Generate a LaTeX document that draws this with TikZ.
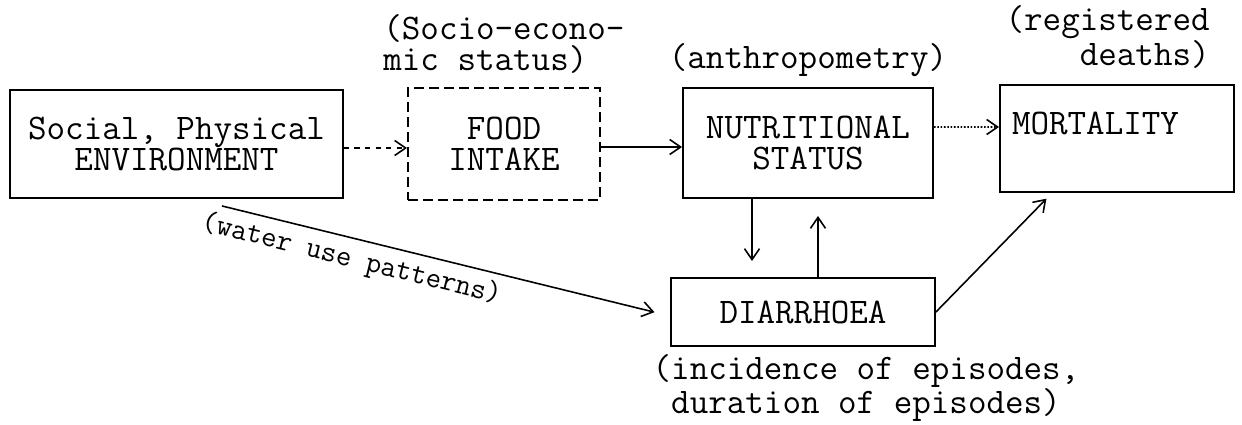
\documentclass[tikz,border=0pt]{standalone}
\usepackage{fontspec}
\usetikzlibrary{arrows.meta}
\newcommand{\typefont}{\ttfamily\fontsize{20.5pt}{17.6pt}\selectfont}
\newcommand{\slopefont}{\ttfamily\fontsize{17pt}{17pt}\selectfont}
\begin{document}
\begin{tikzpicture}[x=0.02cm, y=-0.02cm,
        box/.style={draw, line width=1.1pt, align=center, inner sep=0pt, font=\typefont},
        lbl/.style={align=center, inner sep=0pt, font=\typefont},
        flow/.style={-{Straight Barb[length=0.22cm, width=0.3cm]}, line width=0.9pt}]
        \useasboundingbox (0,0) rectangle (1242,424);

        % Boxes
        \node[box, minimum width=6.66cm, minimum height=2.16cm] (env) at (176.5, 144) {Social, Physical\\ENVIRONMENT};
        \node[box, dash pattern=on 0.2cm off 0.1cm, minimum width=3.84cm, minimum height=2.24cm] (food) at (504, 144) {FOOD\\INTAKE};
        \node[box, minimum width=5cm, minimum height=2.2cm] (nutr) at (808, 143) {NUTRITIONAL\\STATUS};
        \node[box, align=left, inner xsep=0.24cm, text width=4.2cm, minimum width=4.68cm, minimum height=2.14cm] (mort) at (1117, 138.5) {MORTALITY\\\mbox{}};
        \node[box, minimum width=5.28cm, minimum height=1.36cm] (diarr) at (803, 312) {DIARRHOEA};

        % Labels
        \node[lbl, anchor=west, align=left] (socio) at (383, 44) {(Socio-econo-\\mic status)};
        \node[lbl] (anthro) at (808, 60) {(anthropometry)};
        \node[lbl, anchor=east, align=right] (deaths) at (1210, 37) {(registered\\deaths)};
        \node[lbl] (episodes) at (866, 388) {(incidence of episodes,\\duration of episodes)};

        % Flows along the top
        \draw[flow, dashed] ([yshift=-0.08cm]env.east) -- ([yshift=-0.08cm]food.west);
        \draw[flow] ([yshift=-0.06cm]food.east) -- ([yshift=-0.08cm]nutr.west);
        \draw[flow, densely dotted] ([yshift=0.32cm]nutr.east) -- ([yshift=0.23cm]mort.west);

        % Nutrition and diarrhoea
        \draw[flow, shorten >=0.32cm] ([xshift=-1.12cm]nutr.south) -- ([xshift=-1.02cm]diarr.north);
        \draw[flow, shorten >=0.34cm] ([xshift=0.3cm]diarr.north) -- ([xshift=0.2cm]nutr.south);
        \draw[flow, shorten >=0.16cm] (diarr.east) -- ([xshift=-1.3cm]mort.south);

        % Water use
        \draw[flow, shorten >=0.32cm] ([xshift=0.91cm, yshift=-0.14cm]env.south) -- ([yshift=-0.08cm]diarr.west)
            node[pos=0.3, sloped, below, inner sep=0.14cm, font=\slopefont] (water) {(water use patterns)};
    \end{tikzpicture}
\end{document}
